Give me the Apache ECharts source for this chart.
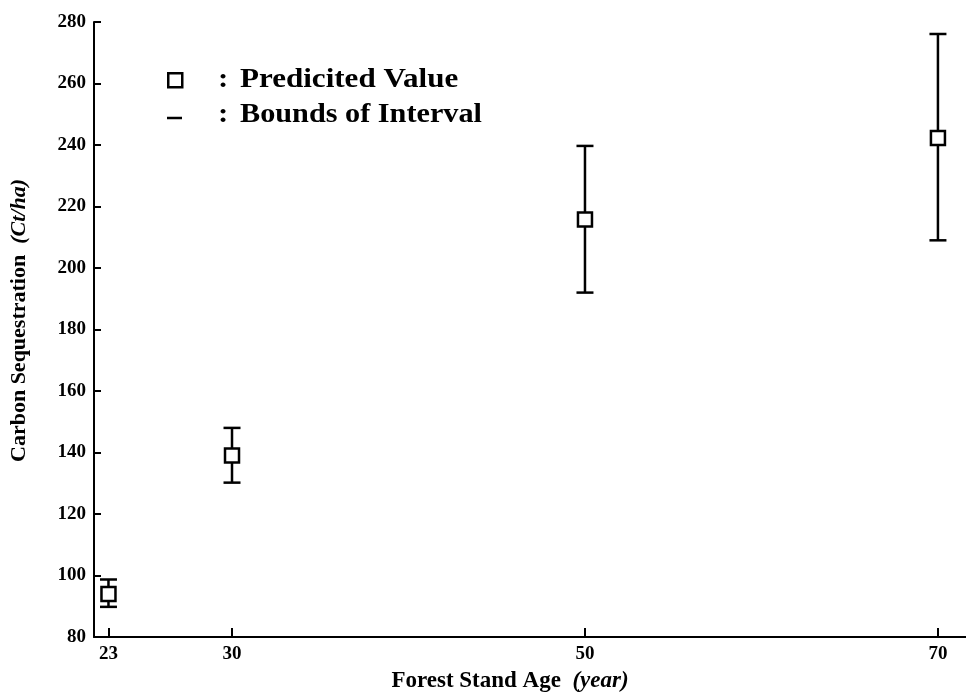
<!DOCTYPE html>
<html>
<head>
<meta charset="utf-8">
<script src="https://cdn.jsdelivr.net/npm/echarts@6/dist/echarts.min.js"></script>
<style>html,body{margin:0;padding:0;background:#fff}#c{width:966px;height:695px}</style>
</head>
<body>
<div id="c"></div>
<script>
const ages = [23, 30, 50, 70];
const predicted = [94.0, 139.0, 215.8, 242.3];
const lowerBound = [89.8, 130.2, 192.0, 209.0];
const upperBound = [98.7, 148.0, 239.7, 276.1];
const xTicks = [23, 30, 50, 70];

const FONT = '"Liberation Serif", "DejaVu Serif", serif';
const chart = echarts.init(document.getElementById('c'));

const errData = ages.map((a, i) => [a, lowerBound[i], upperBound[i]]);
const ptData = ages.map((a, i) => [a, predicted[i]]);

chart.setOption({
  backgroundColor: '#fff',
  animation: false,
  grid: { left: 94, right: 0, top: 22, bottom: 58, containLabel: false, outerBoundsMode: 'none' },
  xAxis: {
    type: 'value', min: 22.18, max: 71.59,
    name: 'Forest Stand Age  {i|(year)}',
    nameLocation: 'middle', nameGap: 33,
    nameTextStyle: {
      fontFamily: FONT, fontSize: 23, fontWeight: 'bold', color: '#000',
      padding: [0, 40, 0, 0],
      rich: { i: { fontFamily: FONT, fontSize: 23, fontWeight: 'bold', fontStyle: 'italic', color: '#000' } }
    },
    axisLine: { lineStyle: { color: '#000', width: 2 } },
    axisTick: { show: true, inside: true, length: 9, customValues: xTicks, lineStyle: { color: '#000', width: 2 } },
    axisLabel: { customValues: xTicks, fontFamily: FONT, fontSize: 19, fontWeight: 'bold', color: '#000', margin: 8 },
    splitLine: { show: false }
  },
  yAxis: {
    type: 'value', min: 80, max: 280, interval: 20,
    name: 'Carbon Sequestration  {i|(Ct/ha)}',
    nameLocation: 'middle', nameGap: 64, nameRotate: 90,
    nameTextStyle: {
      fontFamily: FONT, fontSize: 22, fontWeight: 'bold', color: '#000',
      padding: [0, 0, 0, 18],
      rich: { i: { fontFamily: FONT, fontSize: 22, fontWeight: 'bold', fontStyle: 'italic', color: '#000' } }
    },
    axisLine: { show: true, lineStyle: { color: '#000', width: 2 } },
    axisTick: { show: true, inside: true, length: 7, lineStyle: { color: '#000', width: 2 } },
    axisLabel: { fontFamily: FONT, fontSize: 19, fontWeight: 'bold', color: '#000', margin: 8 },
    splitLine: { show: false }
  },
  graphic: [
    { type: 'rect', left: 167, top: 72, shape: { width: 14, height: 14 }, style: { fill: '#fff', stroke: '#000', lineWidth: 2.5 } },
    { type: 'line', shape: { x1: 167, y1: 118, x2: 182, y2: 118 }, style: { stroke: '#000', lineWidth: 2.5 } },
    { type: 'text', x: 218, y: 80, scaleX: 1.15, style: { text: ':', x: 0, y: 0, verticalAlign: 'middle', font: 'bold 27px ' + FONT, fill: '#000' } },
    { type: 'text', x: 240, y: 80, scaleX: 1.15, style: { text: 'Predicited Value', x: 0, y: 0, verticalAlign: 'middle', font: 'bold 27px ' + FONT, fill: '#000' } },
    { type: 'text', x: 218, y: 115, scaleX: 1.15, style: { text: ':', x: 0, y: 0, verticalAlign: 'middle', font: 'bold 27px ' + FONT, fill: '#000' } },
    { type: 'text', x: 240, y: 115, scaleX: 1.12, style: { text: 'Bounds of Interval', x: 0, y: 0, verticalAlign: 'middle', font: 'bold 27px ' + FONT, fill: '#000' } }
  ],
  series: [
    {
      type: 'custom',
      data: errData,
      renderItem: function (params, api) {
        const x = api.value(0);
        const lo = api.coord([x, api.value(1)]);
        const hi = api.coord([x, api.value(2)]);
        const hw = 8.5;
        const st = { stroke: '#000', lineWidth: 2.5 };
        return {
          type: 'group',
          children: [
            { type: 'line', shape: { x1: lo[0], y1: lo[1], x2: hi[0], y2: hi[1] }, style: st },
            { type: 'line', shape: { x1: lo[0] - hw, y1: lo[1], x2: lo[0] + hw, y2: lo[1] }, style: st },
            { type: 'line', shape: { x1: hi[0] - hw, y1: hi[1], x2: hi[0] + hw, y2: hi[1] }, style: st }
          ]
        };
      },
      z: 2
    },
    {
      type: 'scatter',
      data: ptData,
      symbol: 'rect',
      symbolSize: 14,
      itemStyle: { color: '#fff', borderColor: '#000', borderWidth: 2.5, opacity: 1 },
      z: 3
    }
  ]
});
</script>
</body>
</html>
